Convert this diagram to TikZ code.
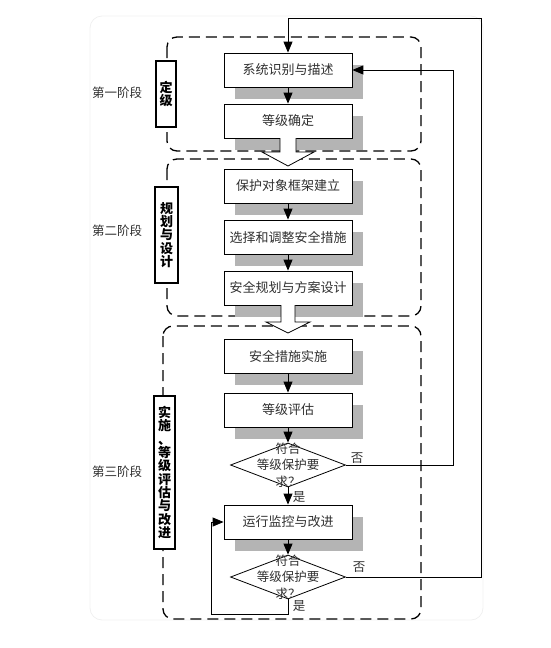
\documentclass[tikz,border=0pt]{standalone}
\usepackage{fontspec}
\setmainfont{Noto Sans CJK SC}
\usetikzlibrary{shapes.geometric,arrows.meta,shadows}
\definecolor{shadowgray}{HTML}{B4B4B4}
\definecolor{txt}{HTML}{303030}
\begin{document}
\begin{tikzpicture}[x=1pt,y=-1pt,
  box/.style={draw, fill=white, line width=0.8pt, minimum width=128pt, minimum height=34pt, inner sep=0pt,
    font=\fontsize{13}{15}\selectfont, text=txt,
    drop shadow={shadow xshift=11pt,shadow yshift=-12pt,fill=shadowgray,opacity=1}},
  dia/.style={draw, diamond, fill=white, line width=0.8pt, minimum width=115pt, minimum height=44pt, inner sep=0pt},
  diatext/.style={align=center, font=\fontsize{12.5}{16.5}\selectfont, text=txt, inner sep=0pt},
  sidebox/.style={draw, fill=white, line width=1.4pt, inner sep=0pt, align=center,
    font=\bfseries\fontsize{13}{13.3}\selectfont},
  stagebox/.style={draw, line width=1.3pt, dash pattern=on 11pt off 6pt, rounded corners=10pt},
  stage/.style={font=\fontsize{12.5}{14}\selectfont, text=txt},
  lbl/.style={font=\fontsize{12.5}{14}\selectfont, text=txt, inner sep=0pt},
  arr/.style={line width=0.9pt, -{Triangle[length=11pt,width=9pt]}},
  blockarrow/.style={draw, fill=white, line width=0.8pt}
]
\useasboundingbox (0,0) rectangle (551,648);
% background panel
\draw[gray!12, line width=0.8pt, rounded corners=12pt] (90,16) rectangle (483,620);

% stage dashed boxes
\draw[stagebox] (167,37) rectangle (421,151);
\draw[stagebox] (167,159) rectangle (421,316);
\draw[stagebox] (163,326) rectangle (421,619);

% boxes
\node[box] (b1) at (288,70) {系统识别与描述};
\node[box] (b2) at (288,121) {等级确定};
\node[box] (b3) at (288,186) {保护对象框架建立};
\node[box] (b4) at (288,237) {选择和调整安全措施};
\node[box] (b5) at (288,288) {安全规划与方案设计};
\node[box] (b6) at (288,356) {安全措施实施};
\node[box] (b7) at (288,410) {等级评估};
\node[dia] (d1) at (288,465) {};
\node[box] (b8) at (288,522) {运行监控与改进};
\node[dia] (d2) at (288,577) {};

% block arrows between stages
\draw[blockarrow] (280,138) -- (280,152) -- (262,152) -- (288,166) -- (314,152) -- (296,152) -- (296,138);
\draw[blockarrow] (281,305) -- (281,322) -- (266,322) -- (288,333) -- (310,322) -- (295,322) -- (295,305);

% side labels
\node[sidebox, minimum width=20pt, minimum height=66pt] (s1) at (166,94) {定\\级};
\node[sidebox, minimum width=23pt, minimum height=96pt] (s2) at (166.5,235) {规\\划\\与\\设\\计};
\node[sidebox, minimum width=21pt, minimum height=153pt] (s3) at (164.5,472.5) {实\\施\\、\\等\\级\\评\\估\\与\\改\\进};

\node[stage] (t1) at (117,93) {第一阶段};
\node[stage] (t2) at (117,231) {第二阶段};
\node[stage] (t3) at (117,472) {第三阶段};

% connectors
\draw[arr] (b1) -- (b2);
\draw[arr] (b3) -- (b4);
\draw[arr] (b4) -- (b5);
\draw[arr] (b6) -- (b7);
\draw[arr] (b7) -- (d1);
\draw[arr] (d1) -- (b8);
\draw[arr] (b8) -- (d2);

\coordinate (c1) at (453,465);
\coordinate (c2) at (453,70);
\draw[arr] (d1.east) -- (c1) -- (c2) -- (b1.east);

\coordinate (c3) at (481,577);
\coordinate (c4) at (481,18);
\coordinate (c5) at (288,18);
\draw[arr] (d2.east) -- (c3) -- (c4) -- (c5) -- (b1.north);

\coordinate (c6) at (288,614);
\coordinate (c7) at (211,614);
\coordinate (c8) at (211,522);
\draw[arr] (d2.south) -- (c6) -- (c7) -- (c8) -- (b8.west);

% diamond texts
\node[diatext] (dt1) at (288,465) {符合\\等级保护要\\求？};
\node[diatext] (dt2) at (288,577) {符合\\等级保护要\\求？};

% yes/no labels
\node[lbl] (n1) at (357,458) {否};
\node[lbl] (y1) at (299,497) {是};
\node[lbl] (n2) at (359,567) {否};
\node[lbl] (y2) at (299,606) {是};
\end{tikzpicture}
\end{document}
